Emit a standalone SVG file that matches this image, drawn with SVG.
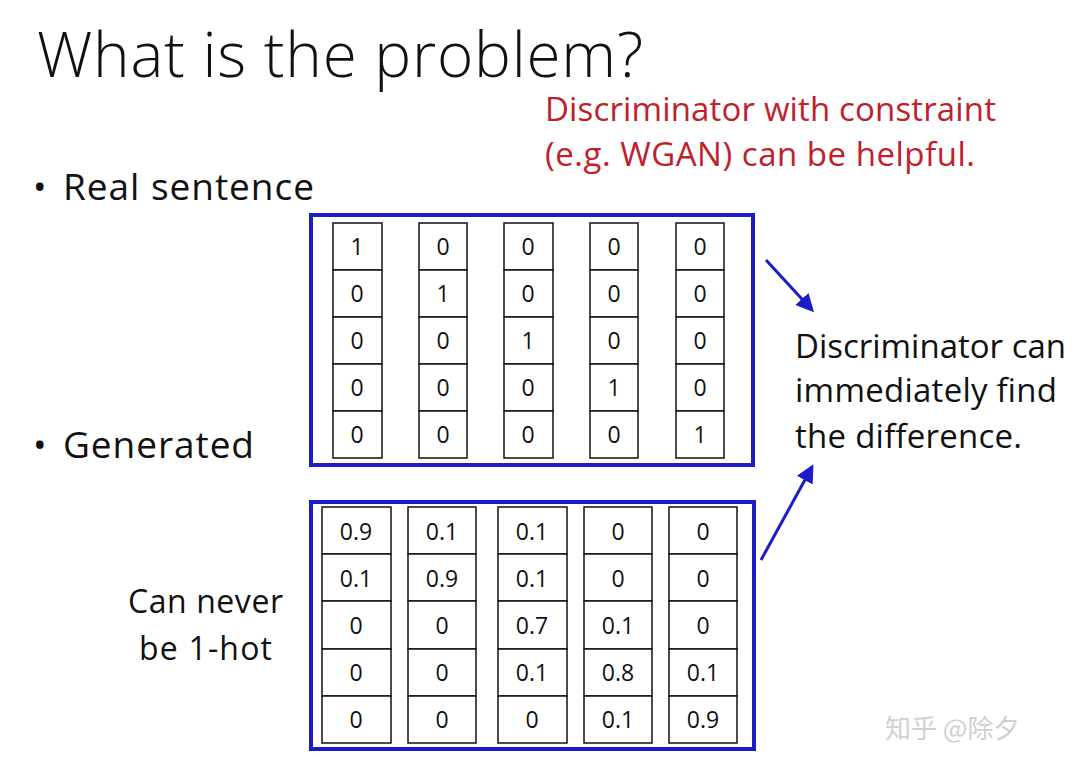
<svg xmlns="http://www.w3.org/2000/svg" width="1080" height="769" viewBox="0 0 1080 769">
<defs>
<style>
.t{font-family:"Open Sans","Noto Sans",sans-serif;fill:#111}
.r{font-family:"Open Sans","Noto Sans",sans-serif;fill:#c0202c;font-size:33px}
.cell{fill:#fff;stroke:#111;stroke-width:1.5}
.c{font-family:"Open Sans","Noto Sans",sans-serif;font-size:23px;fill:#111;text-anchor:middle}
.box{fill:none;stroke:#1c1cc8;stroke-width:4}
.arr{stroke:#1c1cc8;stroke-width:3;fill:none;marker-end:url(#ah)}
</style>
<marker id="ah" markerWidth="6" markerHeight="6" refX="5" refY="3" orient="auto" markerUnits="strokeWidth">
<path d="M0,0 L6,3 L0,6 z" fill="#1c1cc8"/>
</marker>
</defs>
<rect width="1080" height="769" fill="#fff"/>
<g id="title"><text class="t" x="37" y="77" font-size="62" font-weight="300" textLength="606">What is the problem?</text></g>
<g id="bullets">
<text class="t" x="33" y="200" font-size="36">•</text>
<text class="t" x="63" y="200" font-size="37" textLength="251">Real sentence</text>
<text class="t" x="33" y="458" font-size="36">•</text>
<text class="t" x="63" y="458" font-size="37" textLength="191">Generated</text>
</g>
<g id="note-red">
<text class="r" x="545" y="121" textLength="451">Discriminator with constraint</text>
<text class="r" x="545" y="166" textLength="430">(e.g. WGAN) can be helpful.</text>
</g>
<g id="note-disc">
<text class="t" x="795" y="358" font-size="33" textLength="271">Discriminator can</text>
<text class="t" x="795" y="402" font-size="33" textLength="262">immediately find</text>
<text class="t" x="795" y="448" font-size="33" textLength="227">the difference.</text>
</g>
<g id="note-hot">
<text class="t" x="128" y="613" font-size="32" textLength="155">Can never</text>
<text class="t" x="139" y="660" font-size="32" textLength="133">be 1-hot</text>
</g>
<g id="real">
<rect class="box" x="311" y="215" width="442" height="250"/>
<g id="real-cells">
<rect class="cell" x="333" y="223" width="49" height="47"/><rect class="cell" x="333" y="270" width="49" height="47"/><rect class="cell" x="333" y="317" width="49" height="47"/><rect class="cell" x="333" y="364" width="49" height="47"/><rect class="cell" x="333" y="411" width="49" height="47"/>
<rect class="cell" x="419" y="223" width="48" height="47"/><rect class="cell" x="419" y="270" width="48" height="47"/><rect class="cell" x="419" y="317" width="48" height="47"/><rect class="cell" x="419" y="364" width="48" height="47"/><rect class="cell" x="419" y="411" width="48" height="47"/>
<rect class="cell" x="504" y="223" width="49" height="47"/><rect class="cell" x="504" y="270" width="49" height="47"/><rect class="cell" x="504" y="317" width="49" height="47"/><rect class="cell" x="504" y="364" width="49" height="47"/><rect class="cell" x="504" y="411" width="49" height="47"/>
<rect class="cell" x="590" y="223" width="48" height="47"/><rect class="cell" x="590" y="270" width="48" height="47"/><rect class="cell" x="590" y="317" width="48" height="47"/><rect class="cell" x="590" y="364" width="48" height="47"/><rect class="cell" x="590" y="411" width="48" height="47"/>
<rect class="cell" x="676" y="223" width="48" height="47"/><rect class="cell" x="676" y="270" width="48" height="47"/><rect class="cell" x="676" y="317" width="48" height="47"/><rect class="cell" x="676" y="364" width="48" height="47"/><rect class="cell" x="676" y="411" width="48" height="47"/>
</g>
<g id="real-vals">
<text class="c" x="357" y="255">1</text><text class="c" x="357" y="302">0</text><text class="c" x="357" y="349">0</text><text class="c" x="357" y="396">0</text><text class="c" x="357" y="443">0</text>
<text class="c" x="443" y="255">0</text><text class="c" x="443" y="302">1</text><text class="c" x="443" y="349">0</text><text class="c" x="443" y="396">0</text><text class="c" x="443" y="443">0</text>
<text class="c" x="528" y="255">0</text><text class="c" x="528" y="302">0</text><text class="c" x="528" y="349">1</text><text class="c" x="528" y="396">0</text><text class="c" x="528" y="443">0</text>
<text class="c" x="614" y="255">0</text><text class="c" x="614" y="302">0</text><text class="c" x="614" y="349">0</text><text class="c" x="614" y="396">1</text><text class="c" x="614" y="443">0</text>
<text class="c" x="700" y="255">0</text><text class="c" x="700" y="302">0</text><text class="c" x="700" y="349">0</text><text class="c" x="700" y="396">0</text><text class="c" x="700" y="443">1</text>
</g>
</g>
<g id="generated">
<rect class="box" x="311" y="502" width="443" height="247"/>
<g id="gen-cells">
<rect class="cell" x="322" y="507" width="69" height="47"/><rect class="cell" x="322" y="554" width="69" height="47"/><rect class="cell" x="322" y="601" width="69" height="48"/><rect class="cell" x="322" y="649" width="69" height="47"/><rect class="cell" x="322" y="696" width="69" height="47"/>
<rect class="cell" x="408" y="507" width="68" height="47"/><rect class="cell" x="408" y="554" width="68" height="47"/><rect class="cell" x="408" y="601" width="68" height="48"/><rect class="cell" x="408" y="649" width="68" height="47"/><rect class="cell" x="408" y="696" width="68" height="47"/>
<rect class="cell" x="498" y="507" width="69" height="47"/><rect class="cell" x="498" y="554" width="69" height="47"/><rect class="cell" x="498" y="601" width="69" height="48"/><rect class="cell" x="498" y="649" width="69" height="47"/><rect class="cell" x="498" y="696" width="69" height="47"/>
<rect class="cell" x="584" y="507" width="68" height="47"/><rect class="cell" x="584" y="554" width="68" height="47"/><rect class="cell" x="584" y="601" width="68" height="48"/><rect class="cell" x="584" y="649" width="68" height="47"/><rect class="cell" x="584" y="696" width="68" height="47"/>
<rect class="cell" x="669" y="507" width="68" height="47"/><rect class="cell" x="669" y="554" width="68" height="47"/><rect class="cell" x="669" y="601" width="68" height="48"/><rect class="cell" x="669" y="649" width="68" height="47"/><rect class="cell" x="669" y="696" width="68" height="47"/>
</g>
<g id="gen-vals">
<text class="c" x="356" y="540">0.9</text><text class="c" x="356" y="587">0.1</text><text class="c" x="356" y="634">0</text><text class="c" x="356" y="681">0</text><text class="c" x="356" y="728">0</text>
<text class="c" x="442" y="540">0.1</text><text class="c" x="442" y="587">0.9</text><text class="c" x="442" y="634">0</text><text class="c" x="442" y="681">0</text><text class="c" x="442" y="728">0</text>
<text class="c" x="532" y="540">0.1</text><text class="c" x="532" y="587">0.1</text><text class="c" x="532" y="634">0.7</text><text class="c" x="532" y="681">0.1</text><text class="c" x="532" y="728">0</text>
<text class="c" x="618" y="540">0</text><text class="c" x="618" y="587">0</text><text class="c" x="618" y="634">0.1</text><text class="c" x="618" y="681">0.8</text><text class="c" x="618" y="728">0.1</text>
<text class="c" x="703" y="540">0</text><text class="c" x="703" y="587">0</text><text class="c" x="703" y="634">0</text><text class="c" x="703" y="681">0.1</text><text class="c" x="703" y="728">0.9</text>
</g>
</g>
<g id="connectors">
<line class="arr" x1="766" y1="260" x2="812" y2="310"/>
<line class="arr" x1="761" y1="560" x2="812" y2="467"/>
</g>
<g id="watermark"><text x="885" y="738" font-size="26" font-family="'Noto Sans CJK SC',sans-serif" fill="#d0d0d0">知乎 @除夕</text></g>
</svg>
